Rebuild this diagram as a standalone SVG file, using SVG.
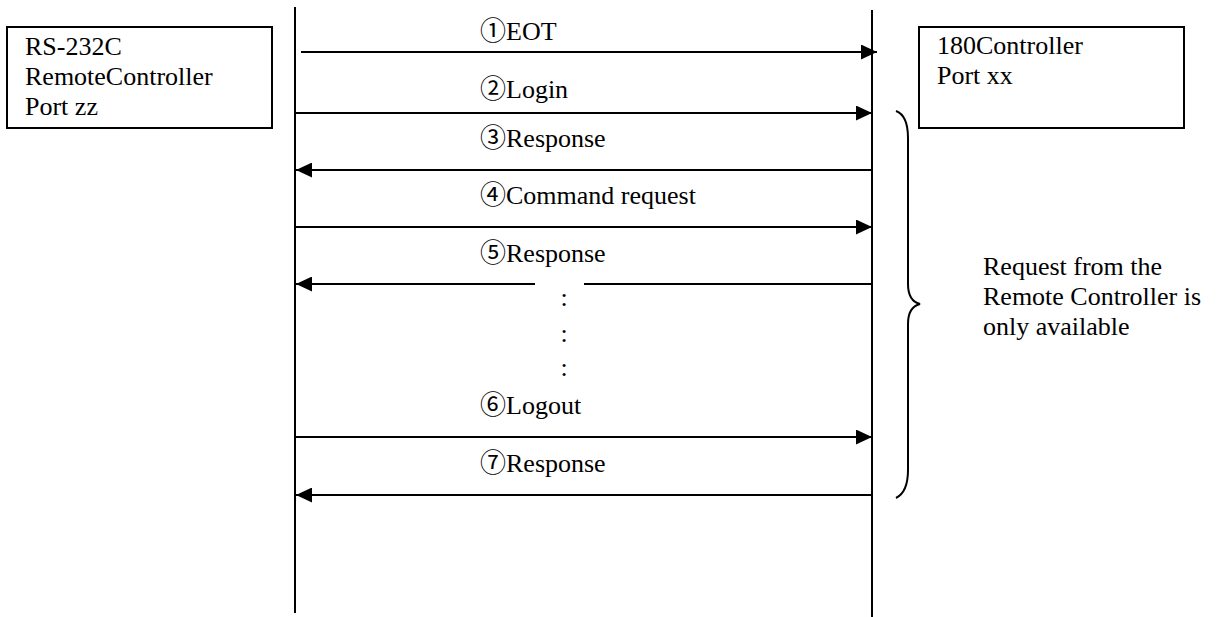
<svg xmlns="http://www.w3.org/2000/svg" width="1219" height="617" viewBox="0 0 1219 617">
<style>
text{font-family:"Liberation Serif","Noto Sans CJK JP",serif;font-size:26px;fill:#000}
.box{fill:#fff;stroke:#000;stroke-width:2}
.life{stroke:#000;stroke-width:2;fill:none}
.msg{stroke:#000;stroke-width:2;fill:none}
.brace{stroke:#000;stroke-width:2;fill:none}
</style>
<defs>
<marker id="ah" viewBox="0 0 16 15" refX="16" refY="7.5" markerWidth="16" markerHeight="15" markerUnits="userSpaceOnUse" orient="auto">
<path d="M0,0 L16,7.5 L0,15 Z" fill="#000"/>
</marker>
</defs>
<rect width="1219" height="617" fill="#fff"/>
<g id="remote">
<rect class="box" x="7" y="27" width="265" height="101"/>
<text x="25" y="55">RS-232C</text>
<text x="25" y="85">RemoteController</text>
<text x="25" y="115">Port zz</text>
</g>
<g id="controller">
<rect class="box" x="919" y="27" width="265" height="101"/>
<text x="937" y="54">180Controller</text>
<text x="937" y="84">Port xx</text>
</g>
<g id="lifelines">
<line class="life" x1="295" y1="7" x2="295" y2="613"/>
<line class="life" x1="872" y1="10" x2="872" y2="617"/>
</g>
<g id="connectors">
<line class="msg" x1="301" y1="52" x2="877" y2="52" marker-end="url(#ah)"/>
<line class="msg" x1="295" y1="113" x2="872" y2="113" marker-end="url(#ah)"/>
<line class="msg" x1="872" y1="170" x2="296" y2="170" marker-end="url(#ah)"/>
<line class="msg" x1="295" y1="227" x2="872" y2="227" marker-end="url(#ah)"/>
<line class="msg" x1="872" y1="284" x2="584" y2="284"/>
<line class="msg" x1="535" y1="284" x2="296" y2="284" marker-end="url(#ah)"/>
<line class="msg" x1="295" y1="437" x2="872" y2="437" marker-end="url(#ah)"/>
<line class="msg" x1="872" y1="495" x2="296" y2="495" marker-end="url(#ah)"/>
</g>
<g id="labels">
<text x="480" y="40">①EOT</text>
<text x="480" y="98">②Login</text>
<text x="480" y="147">③Response</text>
<text x="480" y="204">④Command request</text>
<text x="480" y="262">⑤Response</text>
<text x="564" y="306" text-anchor="middle">:</text>
<text x="564" y="342" text-anchor="middle">:</text>
<text x="564" y="376" text-anchor="middle">:</text>
<text x="480" y="414">⑥Logout</text>
<text x="480" y="472">⑦Response</text>
</g>
<g id="brace-note">
<path class="brace" d="M896,111 C904,114 908,124 908,138 L908,284 C908,296 912,302 920,304 C912,306 908,312 908,324 L908,470 C908,484 904,494 896,498"/>
<text x="983" y="275">Request from the</text>
<text x="983" y="305">Remote Controller is</text>
<text x="983" y="335">only available</text>
</g>
</svg>
